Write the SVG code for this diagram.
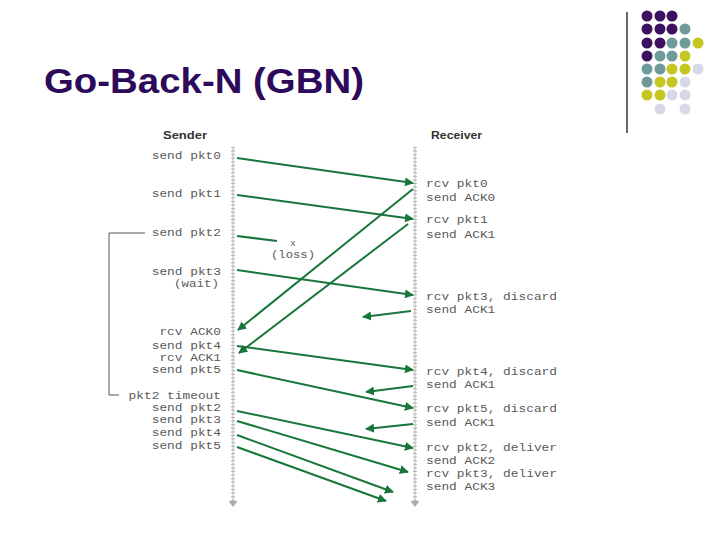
<svg xmlns="http://www.w3.org/2000/svg" width="720" height="540" viewBox="0 0 720 540">
<style>
.title{font-family:"Liberation Sans",Arial,sans-serif;font-weight:bold;font-size:35px;fill:#2d0a5a}
.hd{font-family:"Liberation Sans",Arial,sans-serif;font-weight:bold;font-size:10px;fill:#333}
.m{font-family:"Liberation Mono","Courier New",monospace;font-size:11px;fill:#5a5a5a}
.ll{stroke:#bdbdbd;stroke-width:1}
.llt{stroke:#b0b0b0;stroke-width:4;stroke-dasharray:1 2.6}
.ar{stroke:#17773a;stroke-width:2;fill:none;marker-end:url(#ah)}
.pu{fill:#3d1060}.te{fill:#6e9a9a}.ye{fill:#c6c622}.la{fill:#d8d8e8}
</style>
<defs>
<marker id="ah" viewBox="0 0 10 10" refX="9" refY="5" markerWidth="4.5" markerHeight="4.5" orient="auto" markerUnits="strokeWidth">
<path d="M0,0 L10,5 L0,10 z" fill="#17773a"/>
</marker>
</defs>
<rect width="720" height="540" fill="#ffffff"/>
<g id="decor">
<line x1="627" y1="12" x2="627" y2="133" stroke="#000" stroke-width="1.2"/>
<circle class="pu" cx="647" cy="16" r="5.5"/><circle class="pu" cx="660" cy="16" r="5.5"/><circle class="pu" cx="672" cy="16" r="5.5"/>
<circle class="pu" cx="647" cy="29" r="5.5"/><circle class="pu" cx="660" cy="29" r="5.5"/><circle class="pu" cx="672" cy="29" r="5.5"/><circle class="te" cx="685" cy="29" r="5.5"/>
<circle class="pu" cx="647" cy="43" r="5.5"/><circle class="pu" cx="660" cy="43" r="5.5"/><circle class="te" cx="672" cy="43" r="5.5"/><circle class="te" cx="685" cy="43" r="5.5"/><circle class="ye" cx="698" cy="43" r="5.5"/>
<circle class="pu" cx="647" cy="56" r="5.5"/><circle class="te" cx="660" cy="56" r="5.5"/><circle class="te" cx="672" cy="56" r="5.5"/><circle class="ye" cx="685" cy="56" r="5.5"/>
<circle class="te" cx="647" cy="69" r="5.5"/><circle class="te" cx="660" cy="69" r="5.5"/><circle class="ye" cx="672" cy="69" r="5.5"/><circle class="ye" cx="685" cy="69" r="5.5"/><circle class="la" cx="698" cy="69" r="5.5"/>
<circle class="te" cx="647" cy="82" r="5.5"/><circle class="ye" cx="660" cy="82" r="5.5"/><circle class="ye" cx="672" cy="82" r="5.5"/><circle class="la" cx="685" cy="82" r="5.5"/>
<circle class="ye" cx="647" cy="95" r="5.5"/><circle class="ye" cx="660" cy="95" r="5.5"/><circle class="la" cx="672" cy="95" r="5.5"/><circle class="la" cx="685" cy="95" r="5.5"/>
<circle class="la" cx="660" cy="109" r="5.5"/><circle class="la" cx="685" cy="109" r="5.5"/>
</g>
<text class="title" x="44" y="93" textLength="320" lengthAdjust="spacingAndGlyphs">Go-Back-N (GBN)</text>
<g id="sender">
<text class="hd" x="163" y="139" textLength="44" lengthAdjust="spacingAndGlyphs">Sender</text>
<line class="ll" x1="233" y1="147" x2="233" y2="501"/>
<line class="llt" x1="233" y1="147" x2="233" y2="501"/>
<polygon points="228.5,501 237.5,501 233,507" fill="#aaa"/>
<text class="m" x="151.7" y="159" textLength="69.3" lengthAdjust="spacingAndGlyphs">send pkt0</text>
<text class="m" x="151.7" y="197" textLength="69.3" lengthAdjust="spacingAndGlyphs">send pkt1</text>
<text class="m" x="151.7" y="236" textLength="69.3" lengthAdjust="spacingAndGlyphs">send pkt2</text>
<text class="m" x="151.7" y="275" textLength="69.3" lengthAdjust="spacingAndGlyphs">send pkt3</text>
<text class="m" x="174" y="287" textLength="45" lengthAdjust="spacingAndGlyphs">(wait)</text>
<text class="m" x="159.4" y="335" textLength="61.6" lengthAdjust="spacingAndGlyphs">rcv ACK0</text>
<text class="m" x="151.7" y="349" textLength="69.3" lengthAdjust="spacingAndGlyphs">send pkt4</text>
<text class="m" x="159.4" y="361" textLength="61.6" lengthAdjust="spacingAndGlyphs">rcv ACK1</text>
<text class="m" x="151.7" y="373" textLength="69.3" lengthAdjust="spacingAndGlyphs">send pkt5</text>
<text class="m" x="128.6" y="399" textLength="92.4" lengthAdjust="spacingAndGlyphs">pkt2 timeout</text>
<text class="m" x="151.7" y="411" textLength="69.3" lengthAdjust="spacingAndGlyphs">send pkt2</text>
<text class="m" x="151.7" y="423" textLength="69.3" lengthAdjust="spacingAndGlyphs">send pkt3</text>
<text class="m" x="151.7" y="436" textLength="69.3" lengthAdjust="spacingAndGlyphs">send pkt4</text>
<text class="m" x="151.7" y="449" textLength="69.3" lengthAdjust="spacingAndGlyphs">send pkt5</text>
<polyline points="145,233 109,233 109,395 119,395" fill="none" stroke="#555" stroke-width="1"/>
</g>
<g id="receiver">
<text class="hd" x="431" y="139" textLength="51" lengthAdjust="spacingAndGlyphs">Receiver</text>
<line class="ll" x1="415" y1="147" x2="415" y2="501"/>
<line class="llt" x1="415" y1="147" x2="415" y2="501"/>
<polygon points="410.5,501 419.5,501 415,507" fill="#aaa"/>
<text class="m" x="426" y="187" textLength="61.6" lengthAdjust="spacingAndGlyphs">rcv pkt0</text>
<text class="m" x="426" y="201" textLength="69.3" lengthAdjust="spacingAndGlyphs">send ACK0</text>
<text class="m" x="426" y="223" textLength="61.6" lengthAdjust="spacingAndGlyphs">rcv pkt1</text>
<text class="m" x="426" y="238" textLength="69.3" lengthAdjust="spacingAndGlyphs">send ACK1</text>
<text class="m" x="426" y="300" textLength="131" lengthAdjust="spacingAndGlyphs">rcv pkt3, discard</text>
<text class="m" x="426" y="313" textLength="69.3" lengthAdjust="spacingAndGlyphs">send ACK1</text>
<text class="m" x="426" y="375" textLength="131" lengthAdjust="spacingAndGlyphs">rcv pkt4, discard</text>
<text class="m" x="426" y="388" textLength="69.3" lengthAdjust="spacingAndGlyphs">send ACK1</text>
<text class="m" x="426" y="412" textLength="131" lengthAdjust="spacingAndGlyphs">rcv pkt5, discard</text>
<text class="m" x="426" y="426" textLength="69.3" lengthAdjust="spacingAndGlyphs">send ACK1</text>
<text class="m" x="426" y="451" textLength="131" lengthAdjust="spacingAndGlyphs">rcv pkt2, deliver</text>
<text class="m" x="426" y="464" textLength="69.3" lengthAdjust="spacingAndGlyphs">send ACK2</text>
<text class="m" x="426" y="477" textLength="131" lengthAdjust="spacingAndGlyphs">rcv pkt3, deliver</text>
<text class="m" x="426" y="490" textLength="69.3" lengthAdjust="spacingAndGlyphs">send ACK3</text>
</g>
<g id="loss">
<text class="m" x="293" y="246" text-anchor="middle" style="font-size:9px">x</text>
<text class="m" x="271" y="258" textLength="44" lengthAdjust="spacingAndGlyphs">(loss)</text>
</g>
<g id="connectors">
<line class="ar" x1="237" y1="158" x2="413" y2="183"/>
<line class="ar" x1="237" y1="195" x2="413" y2="219"/>
<line x1="237" y1="236" x2="277" y2="241" stroke="#17773a" stroke-width="2"/>
<line class="ar" x1="237" y1="270" x2="413" y2="295"/>
<line class="ar" x1="413" y1="189" x2="238" y2="330"/>
<line class="ar" x1="408" y1="224" x2="239" y2="353"/>
<line class="ar" x1="411" y1="311" x2="363" y2="317"/>
<line class="ar" x1="237" y1="346" x2="413" y2="370"/>
<line class="ar" x1="413" y1="386" x2="366" y2="392"/>
<line class="ar" x1="237" y1="370" x2="413" y2="408"/>
<line class="ar" x1="413" y1="424" x2="366" y2="429"/>
<line class="ar" x1="237" y1="411" x2="413" y2="448"/>
<line class="ar" x1="237" y1="421" x2="408" y2="472"/>
<line class="ar" x1="237" y1="435" x2="393" y2="492"/>
<line class="ar" x1="237" y1="447" x2="386" y2="501"/>
</g>
</svg>
